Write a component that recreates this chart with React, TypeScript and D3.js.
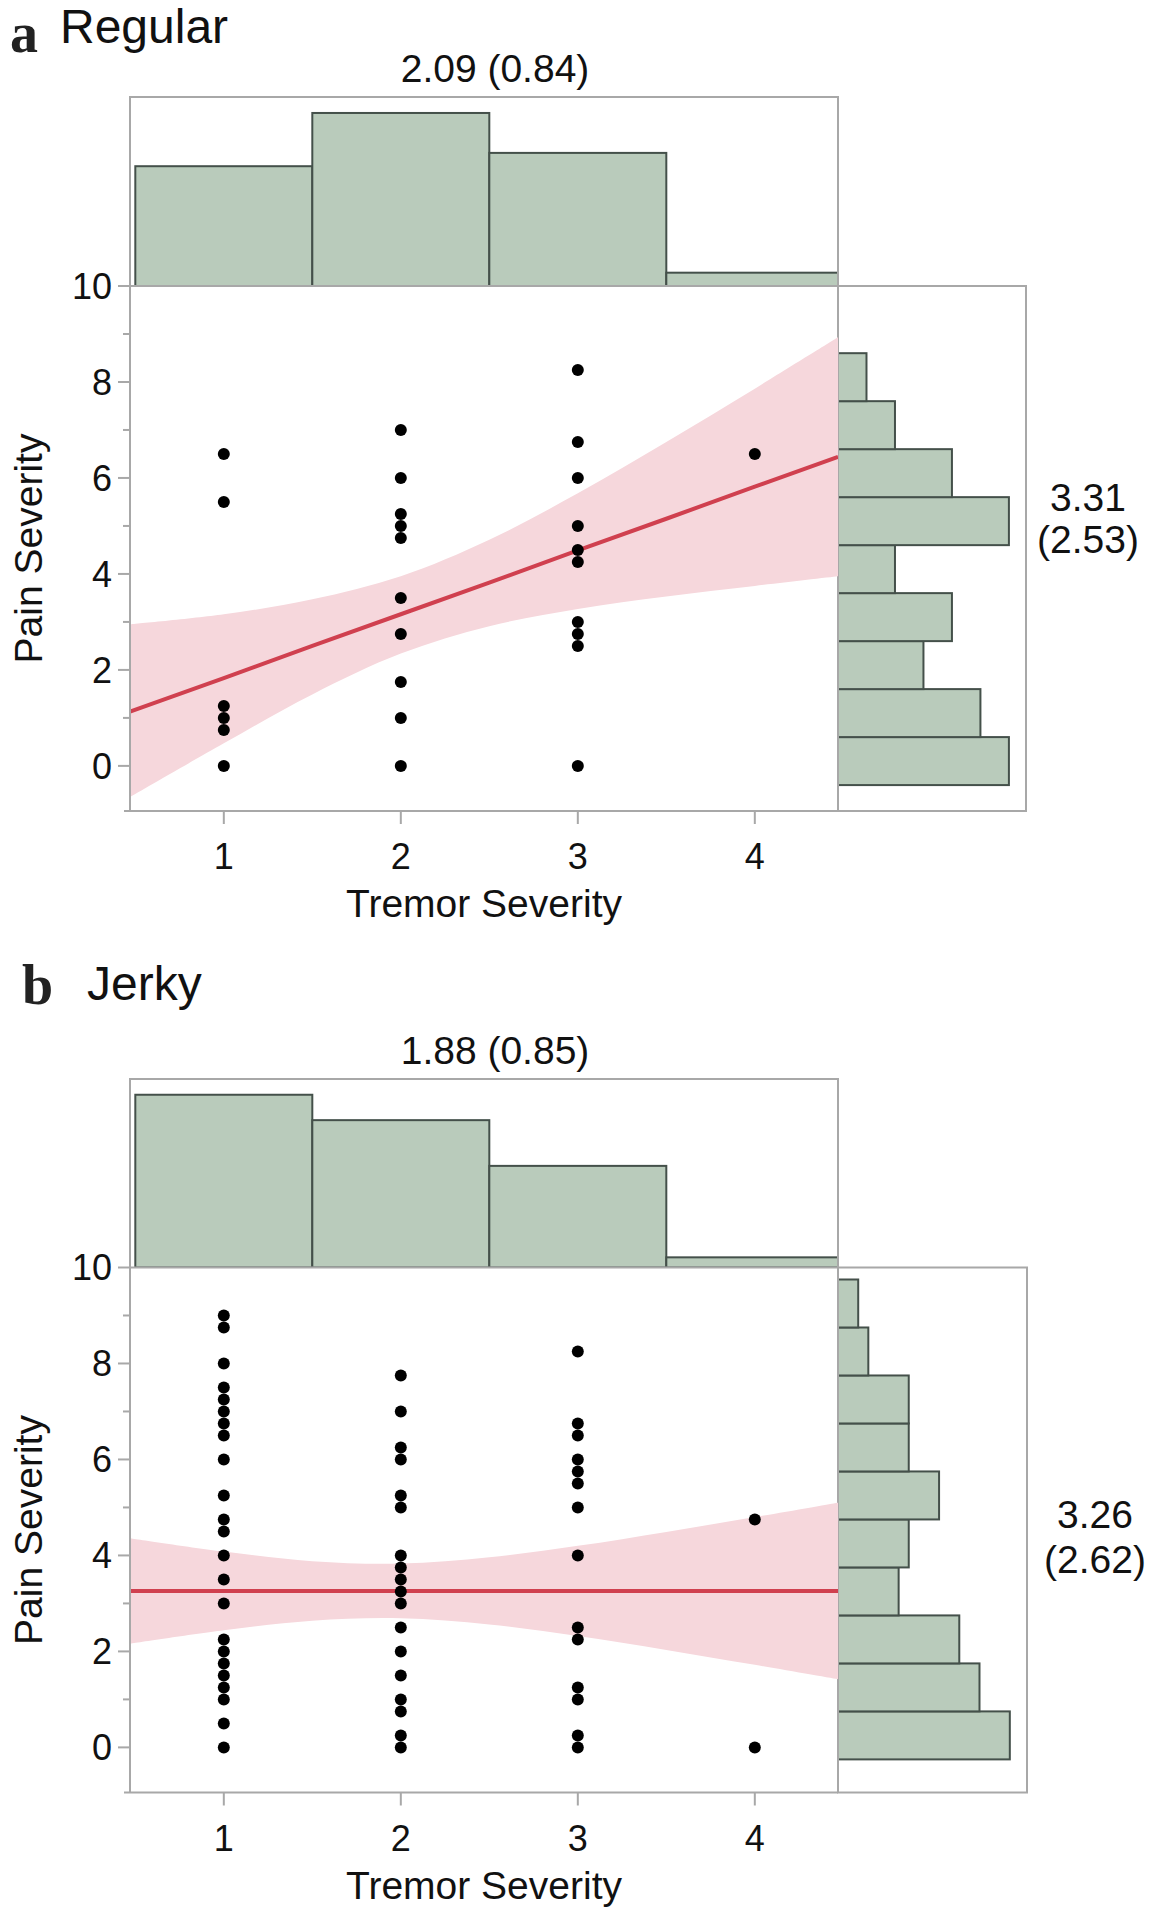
import React from 'react';
import * as d3 from 'd3';

// ---------- shared axis data ----------
const tremorLevels = [1, 2, 3, 4];
const tremorBinEdges = [0.5, 1.5, 2.5, 3.5, 4.5];
const painTicks = [0, 2, 4, 6, 8, 10];
const painMinorTicks = [1, 3, 5, 7, 9];
const fitX = [0.47, 1, 1.5, 2, 2.5, 3, 3.5, 4, 4.47];

// ---------- panel a: Regular ----------
const regularPain1 = [6.5, 5.5, 1.25, 1, 0.75, 0];
const regularPain2 = [7, 6, 5.25, 5, 4.75, 3.5, 2.75, 1.75, 1, 0];
const regularPain3 = [8.25, 6.75, 6, 5, 4.5, 4.25, 3, 2.75, 2.5, 0];
const regularPain4 = [6.5];
const regularTremorCounts = [9, 13, 10, 1];
const regularPainCounts = [6, 5, 3, 4, 2, 6, 4, 2, 1];
const regularPainBinStart = -0.4;
const regularFit = [1.13, 1.83, 2.5, 3.16, 3.82, 4.49, 5.15, 5.82, 6.44];
const regularUpper = [2.95, 3.16, 3.47, 3.95, 4.71, 5.68, 6.75, 7.86, 8.93];
const regularLower = [-0.65, 0.47, 1.49, 2.34, 2.91, 3.27, 3.53, 3.75, 3.95];
const regularTremorStat = '2.09 (0.84)';
const regularPainStat = ['3.31', '(2.53)'];

// ---------- panel b: Jerky ----------
const jerkyPain1 = [9, 8.75, 8, 7.5, 7.25, 7, 6.75, 6.5, 6, 5.25, 4.75, 4.5, 4, 3.5, 3, 2.25, 2, 1.75, 1.5, 1.25, 1, 0.5, 0];
const jerkyPain2 = [7.75, 7, 6.25, 6, 5.25, 5, 4, 3.75, 3.5, 3.25, 3, 2.5, 2, 1.5, 1, 0.75, 0.25, 0];
const jerkyPain3 = [8.25, 6.75, 6.5, 6, 5.75, 5.5, 5, 4, 2.5, 2.25, 1.25, 1, 0.25, 0];
const jerkyPain4 = [4.75, 0];
const jerkyTremorCounts = [34, 29, 20, 2];
const jerkyPainCounts = [17, 14, 12, 6, 7, 10, 7, 7, 3, 2];
const jerkyPainBinStart = -0.25;
const jerkyFit = [3.26, 3.26, 3.26, 3.26, 3.26, 3.26, 3.26, 3.26, 3.26];
const jerkyUpper = [4.36, 4.08, 3.88, 3.83, 3.96, 4.2, 4.49, 4.8, 5.1];
const jerkyLower = [2.16, 2.44, 2.64, 2.69, 2.56, 2.32, 2.03, 1.72, 1.42];
const jerkyTremorStat = '1.88 (0.85)';
const jerkyPainStat = ['3.26', '(2.62)'];

const FONT = '"Liberation Sans", Arial, Helvetica, sans-serif';
const HIST_FILL = '#b9cbbb';
const HIST_STROKE = '#44504a';
const FRAME = '#a8a8a8';
const RED = '#d0404f';
const BAND = '#f6d7dc';

interface PanelProps {
  id: string;
  letter: string;
  title: string;
  letterX: number;
  letterBaseline: number;
  titleX: number;
  titleBaseline: number;
  groups: number[][];
  tremorCounts: number[];
  tremorMax: number;
  painCounts: number[];
  painBinStart: number;
  painMax: number;
  fit: number[];
  upper: number[];
  lower: number[];
  tremorStat: string;
  painStat: string[];
  painStatY: number[];
  painStatX: number;
  histTop: number;
  plotTop: number;
  plotBottom: number;
  rightHistRight: number;
}

const LEFT = 130;
const RIGHT = 838;

function Panel(p: PanelProps) {
  const x = d3.scaleLinear().domain([0.47, 4.47]).range([LEFT, RIGHT]);
  const y = d3.scaleLinear().domain([-0.94, 10]).range([p.plotBottom, p.plotTop]);
  const topY = d3.scaleLinear().domain([0, p.tremorMax]).range([p.plotTop, p.histTop]);
  const rightX = d3.scaleLinear().domain([0, p.painMax]).range([RIGHT, p.rightHistRight]);

  const bandData = fitX.map((xv, i) => ({ x: xv, lo: p.lower[i], hi: p.upper[i], f: p.fit[i] }));
  const area = d3
    .area<{ x: number; lo: number; hi: number; f: number }>()
    .x((d) => x(d.x))
    .y0((d) => y(d.lo))
    .y1((d) => y(d.hi))
    .curve(d3.curveCatmullRom);
  const line = d3
    .line<{ x: number; lo: number; hi: number; f: number }>()
    .x((d) => x(d.x))
    .y((d) => y(d.f));

  const points: { tx: number; py: number }[] = [];
  p.groups.forEach((g, gi) => g.forEach((v) => points.push({ tx: tremorLevels[gi], py: v })));

  const clipPlot = `clip-plot-${p.id}`;
  const clipTop = `clip-top-${p.id}`;
  const plotMid = (p.plotTop + p.plotBottom) / 2;

  return (
    <g>
      <defs>
        <clipPath id={clipPlot}>
          <rect x={LEFT} y={p.plotTop} width={RIGHT - LEFT} height={p.plotBottom - p.plotTop} />
        </clipPath>
        <clipPath id={clipTop}>
          <rect x={LEFT} y={p.histTop} width={RIGHT - LEFT} height={p.plotTop - p.histTop} />
        </clipPath>
      </defs>

      {/* panel letter + title */}
      <text x={p.letterX} y={p.letterBaseline} fontFamily='"Liberation Serif", "Times New Roman", serif' fontWeight="bold" fontSize={56} fill="#222">
        {p.letter}
      </text>
      <text x={p.titleX} y={p.titleBaseline} fontFamily={FONT} fontSize={48} fill="#111">
        {p.title}
      </text>

      {/* top stats */}
      <text x={495} y={p.histTop - 15} textAnchor="middle" fontFamily={FONT} fontSize={39} fill="#111">
        {p.tremorStat}
      </text>

      {/* top histogram */}
      <g clipPath={`url(#${clipTop})`}>
        {p.tremorCounts.map((c, i) => (
          <rect
            key={i}
            x={x(tremorBinEdges[i])}
            y={topY(c)}
            width={x(tremorBinEdges[i + 1]) - x(tremorBinEdges[i])}
            height={topY(0) - topY(c)}
            fill={HIST_FILL}
            stroke={HIST_STROKE}
            strokeWidth={2}
          />
        ))}
      </g>
      <rect x={LEFT} y={p.histTop} width={RIGHT - LEFT} height={p.plotTop - p.histTop} fill="none" stroke={FRAME} strokeWidth={2} />

      {/* right histogram */}
      {p.painCounts.map((c, i) => (
        <rect
          key={i}
          x={rightX(0)}
          y={y(p.painBinStart + i + 1)}
          width={rightX(c) - rightX(0)}
          height={y(p.painBinStart + i) - y(p.painBinStart + i + 1)}
          fill={HIST_FILL}
          stroke={HIST_STROKE}
          strokeWidth={2}
        />
      ))}
      <rect x={RIGHT} y={p.plotTop} width={p.rightHistRight - RIGHT} height={p.plotBottom - p.plotTop} fill="none" stroke={FRAME} strokeWidth={2} />

      {/* right stats */}
      {p.painStat.map((s, i) => (
        <text key={i} x={p.painStatX} y={p.painStatY[i]} textAnchor="middle" fontFamily={FONT} fontSize={39} fill="#111">
          {s}
        </text>
      ))}

      {/* confidence band and fit */}
      <g clipPath={`url(#${clipPlot})`}>
        <path d={area(bandData) || ''} fill={BAND} stroke="none" />
        <path d={line(bandData) || ''} fill="none" stroke={RED} strokeWidth={4} />
      </g>

      {/* axes */}
      <line x1={LEFT} x2={LEFT} y1={p.plotTop} y2={p.plotBottom} stroke={FRAME} strokeWidth={2} />
      <line x1={LEFT - 6} x2={RIGHT} y1={p.plotBottom} y2={p.plotBottom} stroke={FRAME} strokeWidth={2} />
      {painTicks.map((t) => (
        <g key={t}>
          <line x1={LEFT - 12} x2={LEFT} y1={y(t)} y2={y(t)} stroke={FRAME} strokeWidth={2} />
          <text x={LEFT - 18} y={y(t)} dy="0.36em" textAnchor="end" fontFamily={FONT} fontSize={36} fill="#111">
            {t}
          </text>
        </g>
      ))}
      {painMinorTicks.map((t) => (
        <line key={t} x1={LEFT - 7} x2={LEFT} y1={y(t)} y2={y(t)} stroke={FRAME} strokeWidth={2} />
      ))}
      {tremorLevels.map((t) => (
        <g key={t}>
          <line x1={x(t)} x2={x(t)} y1={p.plotBottom} y2={p.plotBottom + 13} stroke={FRAME} strokeWidth={2} />
          <text x={x(t)} y={p.plotBottom + 58} textAnchor="middle" fontFamily={FONT} fontSize={36} fill="#111">
            {t}
          </text>
        </g>
      ))}
      <text x={(LEFT + RIGHT) / 2} y={p.plotBottom + 106} textAnchor="middle" fontFamily={FONT} fontSize={39} fill="#111">
        Tremor Severity
      </text>
      <text
        transform={`translate(42, ${plotMid}) rotate(-90)`}
        textAnchor="middle"
        fontFamily={FONT}
        fontSize={39}
        fill="#111"
      >
        Pain Severity
      </text>

      {/* points */}
      {points.map((d, i) => (
        <circle key={i} cx={x(d.tx)} cy={y(d.py)} r={6} fill="#000" />
      ))}
    </g>
  );
}

export default function App() {
  return (
    <svg
      width={1155}
      height={1920}
      viewBox="0 0 1155 1920"
      style={{ position: 'absolute', left: 0, top: 0, background: '#fff' }}
    >
      <rect x={0} y={0} width={1155} height={1920} fill="#fff" />
      <Panel
        id="a"
        letter="a"
        title="Regular"
        letterX={10}
        letterBaseline={52}
        titleX={60}
        titleBaseline={43}
        groups={[regularPain1, regularPain2, regularPain3, regularPain4]}
        tremorCounts={regularTremorCounts}
        tremorMax={14.2}
        painCounts={regularPainCounts}
        painBinStart={regularPainBinStart}
        painMax={6.6}
        fit={regularFit}
        upper={regularUpper}
        lower={regularLower}
        tremorStat={regularTremorStat}
        painStat={regularPainStat}
        painStatY={[511, 553]}
        painStatX={1088}
        histTop={97}
        plotTop={286}
        plotBottom={811}
        rightHistRight={1026}
      />
      <Panel
        id="b"
        letter="b"
        title="Jerky"
        letterX={22}
        letterBaseline={1004}
        titleX={87}
        titleBaseline={1000}
        groups={[jerkyPain1, jerkyPain2, jerkyPain3, jerkyPain4]}
        tremorCounts={jerkyTremorCounts}
        tremorMax={37.1}
        painCounts={jerkyPainCounts}
        painBinStart={jerkyPainBinStart}
        painMax={18.7}
        fit={jerkyFit}
        upper={jerkyUpper}
        lower={jerkyLower}
        tremorStat={jerkyTremorStat}
        painStat={jerkyPainStat}
        painStatY={[1528, 1573]}
        painStatX={1095}
        histTop={1079}
        plotTop={1267.5}
        plotBottom={1792.5}
        rightHistRight={1027}
      />
    </svg>
  );
}
